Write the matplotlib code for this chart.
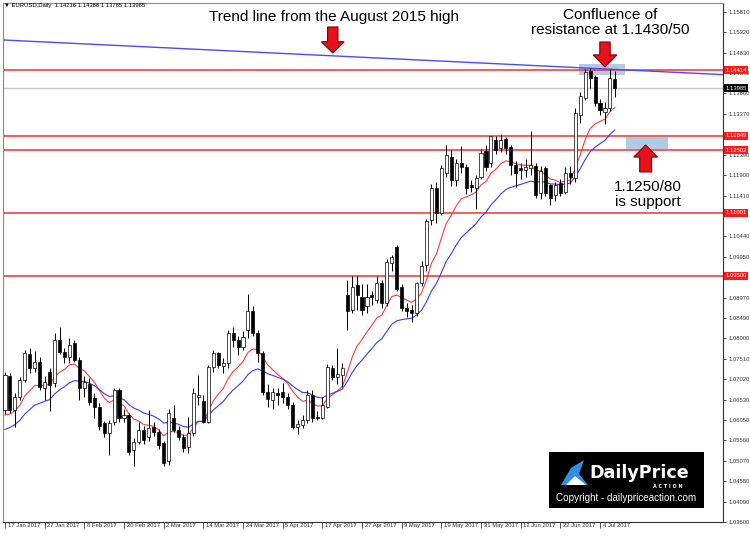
import numpy as np
import matplotlib.pyplot as plt
from matplotlib.patches import Rectangle, FancyArrow, Polygon
from matplotlib.transforms import ScaledTranslation, blended_transform_factory

plt.rcParams['font.family'] = ['Liberation Sans', 'DejaVu Sans']

#### DATA ####
# EURUSD daily bars, 17 Jan 2017 .. 7 Jul 2017
opens = [1.0628, 1.0710, 1.0628, 1.0660, 1.0700, 1.0762, 1.0728, 1.0744, 1.0680, 1.0718,
         1.0692, 1.0796, 1.0768, 1.0756, 1.0788, 1.0748, 1.0680, 1.0690, 1.0656, 1.0636,
         1.0596, 1.0572, 1.0600, 1.0676, 1.0610, 1.0616, 1.0532, 1.0552, 1.0580, 1.0564,
         1.0588, 1.0576, 1.0548, 1.0505, 1.0608, 1.0580, 1.0564, 1.0540, 1.0572, 1.0660,
         1.0650, 1.0600, 1.0732, 1.0764, 1.0734, 1.0740, 1.0812, 1.0796, 1.0780, 1.0820,
         1.0864, 1.0812, 1.0764, 1.0672, 1.0652, 1.0668, 1.0672, 1.0660, 1.0640, 1.0587,
         1.0592, 1.0604, 1.0664, 1.0612, 1.0610, 1.0636, 1.0728, 1.0708, 1.0712, 1.0903,
         1.0868, 1.0927, 1.0899, 1.0876, 1.0903, 1.0891, 1.0931, 1.0884, 1.0979, 1.1019,
         1.0923, 1.0872, 1.0868, 1.0860, 1.0931, 1.0975, 1.1083, 1.1159, 1.1099, 1.1195,
         1.1235, 1.1179, 1.1219, 1.1211, 1.1167, 1.1159, 1.1187, 1.1247, 1.1219, 1.1275,
         1.1255, 1.1276, 1.1257, 1.1215, 1.1207, 1.1203, 1.1207, 1.1212, 1.1147, 1.1207,
         1.1167, 1.1143, 1.1171, 1.1151, 1.1195, 1.1183, 1.1335, 1.1376, 1.1440, 1.1426,
         1.1362, 1.1342, 1.1350, 1.14216]
highs = [1.0720, 1.0716, 1.0668, 1.0708, 1.0772, 1.0776, 1.0770, 1.0756, 1.0710, 1.0728,
         1.0812, 1.0828, 1.0776, 1.0800, 1.0796, 1.0756, 1.0710, 1.0704, 1.0668, 1.0646,
         1.0602, 1.0604, 1.0680, 1.0680, 1.0630, 1.0622, 1.0560, 1.0600, 1.0590, 1.0628,
         1.0600, 1.0582, 1.0555, 1.0630, 1.0640, 1.0590, 1.0570, 1.0612, 1.0680, 1.0712,
         1.0664, 1.0736, 1.0772, 1.0768, 1.0752, 1.0820, 1.0826, 1.0806, 1.0818, 1.0906,
         1.0876, 1.0820, 1.0770, 1.0690, 1.0680, 1.0680, 1.0692, 1.0670, 1.0648, 1.0604,
         1.0616, 1.0676, 1.0676, 1.0626, 1.0660, 1.0738, 1.0736, 1.0776, 1.0740, 1.0940,
         1.0950, 1.0950, 1.0930, 1.0930, 1.0912, 1.0950, 1.0940, 1.0990, 1.1000, 1.1023,
         1.0930, 1.0885, 1.0880, 1.0935, 1.0985, 1.1085, 1.1170, 1.1174, 1.1214, 1.1263,
         1.1250, 1.1230, 1.1260, 1.1218, 1.1178, 1.1190, 1.1252, 1.1263, 1.1285, 1.1285,
         1.1290, 1.1282, 1.1262, 1.1225, 1.1220, 1.1230, 1.1295, 1.1220, 1.1212, 1.1212,
         1.1170, 1.1175, 1.1180, 1.1210, 1.1212, 1.1350, 1.1390, 1.1445, 1.1446, 1.1430,
         1.1372, 1.1366, 1.1445, 1.14388]
lows = [1.0618, 1.0622, 1.0588, 1.0652, 1.0694, 1.0716, 1.0720, 1.0676, 1.0652, 1.0625,
        1.0684, 1.0762, 1.0740, 1.0740, 1.0742, 1.0652, 1.0660, 1.0640, 1.0608, 1.0580,
        1.0564, 1.0520, 1.0592, 1.0600, 1.0600, 1.0520, 1.0493, 1.0546, 1.0546, 1.0555,
        1.0565, 1.0535, 1.0495, 1.0497, 1.0575, 1.0556, 1.0527, 1.0524, 1.0565, 1.0640,
        1.0598, 1.0596, 1.0720, 1.0728, 1.0716, 1.0728, 1.0780, 1.0760, 1.0772, 1.0800,
        1.0806, 1.0742, 1.0664, 1.0636, 1.0630, 1.0640, 1.0646, 1.0630, 1.0582, 1.0570,
        1.0586, 1.0598, 1.0600, 1.0604, 1.0606, 1.0632, 1.0700, 1.0690, 1.0684, 1.0820,
        1.0860, 1.0868, 1.0855, 1.0860, 1.0880, 1.0885, 1.0872, 1.0878, 1.0960, 1.0912,
        1.0864, 1.0850, 1.0838, 1.0852, 1.0925, 1.0960, 1.1070, 1.1076, 1.1094, 1.1187,
        1.1165, 1.1165, 1.1195, 1.1145, 1.1150, 1.1109, 1.1180, 1.1200, 1.1210, 1.1240,
        1.1245, 1.1240, 1.1191, 1.1163, 1.1180, 1.1185, 1.1190, 1.1135, 1.1133, 1.1140,
        1.1119, 1.1128, 1.1140, 1.1145, 1.1168, 1.1175, 1.1315, 1.1370, 1.1400, 1.1355,
        1.1335, 1.1313, 1.1345, 1.13785]
closes = [1.0712, 1.0628, 1.0660, 1.0700, 1.0764, 1.0728, 1.0744, 1.0684, 1.0696, 1.0688,
          1.0796, 1.0768, 1.0756, 1.0784, 1.0748, 1.0680, 1.0696, 1.0648, 1.0636, 1.0590,
          1.0572, 1.0596, 1.0676, 1.0608, 1.0616, 1.0528, 1.0552, 1.0580, 1.0556, 1.0584,
          1.0576, 1.0544, 1.0501, 1.0620, 1.0580, 1.0564, 1.0536, 1.0572, 1.0668, 1.0664,
          1.0600, 1.0732, 1.0764, 1.0736, 1.0740, 1.0812, 1.0796, 1.0780, 1.0804, 1.0864,
          1.0812, 1.0764, 1.0672, 1.0654, 1.0672, 1.0664, 1.0660, 1.0640, 1.0588, 1.0595,
          1.0604, 1.0664, 1.0608, 1.0610, 1.0640, 1.0732, 1.0708, 1.0714, 1.0728, 1.0864,
          1.0923, 1.0903, 1.0868, 1.0899, 1.0899, 1.0931, 1.0884, 1.0983, 1.0995, 1.0919,
          1.0872, 1.0864, 1.0860, 1.0931, 1.0973, 1.1081, 1.1159, 1.1099, 1.1207, 1.1239,
          1.1179, 1.1219, 1.1209, 1.1160, 1.1163, 1.1183, 1.1243, 1.1211, 1.1283, 1.1251,
          1.1275, 1.1255, 1.1215, 1.1195, 1.1203, 1.1209, 1.1215, 1.1143, 1.1200, 1.1147,
          1.1135, 1.1167, 1.1147, 1.1195, 1.1185, 1.1338, 1.1380, 1.1438, 1.1424, 1.1362,
          1.1346, 1.1350, 1.1422, 1.13985]

date_labels = ['17 Jan 2017', '27 Jan 2017', '8 Feb 2017', '20 Feb 2017', '2 Mar 2017',
               '14 Mar 2017', '24 Mar 2017', '5 Apr 2017', '17 Apr 2017', '27 Apr 2017',
               '9 May 2017', '19 May 2017', '31 May 2017', '12 Jun 2017', '22 Jun 2017',
               '4 Jul 2017']
price_ticks = [1.15810, 1.15320, 1.14830, 1.14340, 1.13860, 1.13370, 1.12880, 1.12390,
               1.11900, 1.11410, 1.10930, 1.10440, 1.09950, 1.09470, 1.08970, 1.08490,
               1.08000, 1.07510, 1.07020, 1.06530, 1.06050, 1.05560, 1.05070, 1.04580,
               1.04090, 1.03600]
# tick labels that sit under a level tag are not shown
hidden_ticks = [1.12880, 1.10930, 1.09470]

# horizontal levels drawn on the chart
levels = [1.14414, 1.12849, 1.12502, 1.11001, 1.09500]
last_price = 1.13985

# moving averages: periods and their value at the first visible bar
ema_fast_period, ema_fast_start = 10, 1.0595
ema_slow_period, ema_slow_start = 20, 1.0568

# trend line from the Aug 2015 high (bar index, price)
trend_x = [-0.4, 144.8]
trend_y = [1.1514, 1.1431]

# shaded zones: (x0, x1, y0, y1)
zones = [(115.7, 125.0, 1.1430, 1.14565), (125.2, 133.7, 1.1253, 1.1282)]


def ema(values, period, start):
    k = 2.0 / (period + 1)
    out = []
    prev = start
    for v in values:
        prev = prev + k * (v - prev)
        out.append(prev)
    return np.array(out)


o = np.array(opens); h = np.array(highs); l = np.array(lows); c = np.array(closes)
idx = np.arange(len(c))

fig = plt.figure(figsize=(7.5, 5.37), dpi=100)
ax = fig.add_axes([3/750, 15/537, 720/750, 519/537])
ax.set_xlim(-0.4, 144.8)
ax.set_ylim(1.03608, 1.16025)

# zones
for x0, x1, y0, y1 in zones:
    ax.add_patch(Rectangle((x0, y0), x1 - x0, y1 - y0, facecolor='#afcbe6',
                           edgecolor='none', zorder=1))

# levels
for lv in levels:
    ax.axhline(lv, color='#f23030', lw=1.1, zorder=2)
ax.axhline(last_price, color='#c8c8c8', lw=1.0, zorder=1.5)

# trend line
ax.plot(trend_x, trend_y, color='#4a4aff', lw=1.0, zorder=2)

# moving averages
ax.plot(idx, ema(c, ema_fast_period, ema_fast_start), color='#ff3a3a', lw=0.8, zorder=3)
ax.plot(idx, ema(c, ema_slow_period, ema_slow_start), color='#3a3aff', lw=0.8, zorder=3)

# candles
ax.vlines(idx, l, h, color='black', lw=0.7, zorder=4)
up = c >= o
body_lo = np.minimum(o, c)
body_h = np.maximum(np.abs(c - o), 0.00004)
ax.bar(idx[up], body_h[up], bottom=body_lo[up], width=0.62, facecolor='white',
       edgecolor='black', lw=0.5, zorder=5)
ax.bar(idx[~up], body_h[~up], bottom=body_lo[~up], width=0.62, facecolor='black',
       edgecolor='black', lw=0.5, zorder=5)

# arrows
arrow_kw = dict(length_includes_head=True, facecolor='#e3121b', edgecolor='#8a0000',
                lw=0.8, zorder=8)
ax.add_patch(FancyArrow(66.1, 1.15451, 0, -0.00623, width=2.1, head_width=4.6,
                        head_length=0.0027, **arrow_kw))
ax.add_patch(FancyArrow(121.0, 1.15092, 0, -0.00599, width=2.1, head_width=4.8,
                        head_length=0.0029, **arrow_kw))
ax.add_patch(FancyArrow(129.2, 1.1198, 0, 0.00646, width=2.4, head_width=4.8,
                        head_length=0.0029, **arrow_kw))

# annotations
ax.text(66.3, 1.15690, 'Trend line from the August 2015 high', fontsize=11,
        ha='center', va='center', zorder=9)
ax.text(122.0, 1.1555, 'Confluence of\nresistance at 1.1430/50', fontsize=11,
        ha='center', va='center', linespacing=1.1, zorder=9)
ax.text(129.6, 1.1145, '1.1250/80\nis support', fontsize=11,
        ha='center', va='center', linespacing=1.1, zorder=9)

# axes styling
for side in ['top', 'left']:
    ax.spines[side].set_color('#8a8a8a')
for side in ['bottom', 'right']:
    ax.spines[side].set_color('#333333')
for sp in ax.spines.values():
    sp.set_linewidth(0.8)

ax.yaxis.tick_right()
ax.set_yticks(price_ticks)
ax.set_yticklabels(['' if t in hidden_ticks else '%.5f' % t for t in price_ticks])
ax.tick_params(axis='y', direction='out', length=2.5, width=0.6, pad=1.5,
               labelsize=4.2, colors='#333333')
ax.set_xticks(np.arange(0, 8 * len(date_labels), 8))
ax.set_xticklabels(date_labels, ha='left')
ax.tick_params(axis='x', direction='out', length=4, width=0.6, pad=-3.5,
               labelsize=4.2, colors='#333333')
shift = ScaledTranslation(2/72, 0, fig.dpi_scale_trans)
for lab in ax.get_xticklabels():
    lab.set_transform(lab.get_transform() + shift)

# price tags on the right axis
tr = blended_transform_factory(ax.transAxes, ax.transData)
for lv in levels:
    ax.text(1.003, lv, '%.5f' % lv, transform=tr, fontsize=4.2, color='white',
            va='center', ha='left', clip_on=False, zorder=10,
            bbox=dict(boxstyle='square,pad=0.25', facecolor='#ff1a1a', edgecolor='none'))
ax.text(1.003, last_price, '%.5f' % last_price, transform=tr, fontsize=4.2, color='white',
        va='center', ha='left', clip_on=False, zorder=10,
        bbox=dict(boxstyle='square,pad=0.25', facecolor='black', edgecolor='none'))

# header
fig.text(4/750, 1 - 6/537, '\u25bc EURUSD,Daily  1.14216 1.14388 1.13785 1.13985',
         fontsize=4.2, va='center', ha='left')

# logo block


def px(x, y):
    return (x / 750, 1 - y / 537)


fig.patches.append(Rectangle(px(549, 508), 155 / 750, 56 / 537, facecolor='black',
                             edgecolor='none', transform=fig.transFigure, zorder=20))
swoosh = [px(561, 485), px(571, 468), px(584, 460), px(579, 474), px(588, 485)]
fig.patches.append(Polygon(swoosh, closed=True, facecolor='#2f8fe6', edgecolor='none',
                           transform=fig.transFigure, zorder=21))
notch = [px(566, 485), px(575, 476), px(586, 485)]
fig.patches.append(Polygon(notch, closed=True, facecolor='white', edgecolor='none',
                           transform=fig.transFigure, zorder=22))
fig.text(*px(589, 473), 'DailyPrice', family='DejaVu Sans', fontweight='bold',
         fontsize=12.6, color='white', va='center', ha='left', zorder=23)
fig.text(*px(668, 487), 'A C T I O N', family='DejaVu Sans', fontweight='bold',
         fontsize=3.5, color='white', va='center', ha='center', zorder=23)
fig.text(*px(626, 498), 'Copyright - dailypriceaction.com', fontsize=7.1,
         color='white', va='center', ha='center', zorder=23)

fig.savefig('out.png', dpi=100, facecolor='white')
